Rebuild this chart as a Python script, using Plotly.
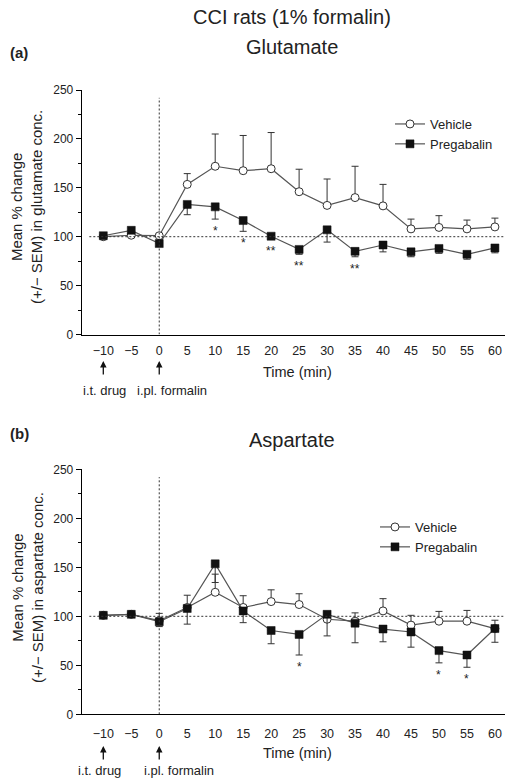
import plotly.graph_objects as go

# ---------------- data ----------------
time = [-10, -5, 0, 5, 10, 15, 20, 25, 30, 35, 40, 45, 50, 55, 60]
tick_text = ["\u221210", "\u22125", "0", "5", "10", "15", "20", "25", "30", "35", "40", "45", "50", "55", "60"]

# Panel (a) Glutamate
glu_vehicle = [100, 101.5, 101, 153.5, 172, 167.5, 169.5, 146, 132, 140, 131.5, 108, 109.5, 108, 110]
glu_vehicle_sem = [2, 2, 2, 11, 33, 36, 37, 23, 27, 32, 22, 10, 12, 9, 9]
glu_pregabalin = [101, 106.5, 93, 133, 130.5, 116.5, 100.5, 87, 107, 85, 91.5, 84.5, 88, 82, 88.5]
glu_pregabalin_sem = [2, 2, 3, 10.5, 12.5, 11, 3, 5, 12.5, 5.5, 7, 5, 5, 5, 5]
glu_sig_time = [10, 15, 20, 25, 35]
glu_sig_text = ["*", "*", "**", "**", "**"]

# Panel (b) Aspartate
asp_vehicle = [101, 102, 95.5, 109, 124.5, 109, 115, 112, 97, 95, 105.5, 91, 95, 95, 87.5]
asp_vehicle_sem = [1, 3, 7.5, 12.5, 18.5, 12, 12, 11, 2, 8.5, 12.5, 10, 10, 11, 8.5]
asp_pregabalin = [101, 102, 94.5, 108, 153.5, 105.5, 85.5, 81.5, 102, 93, 87, 84, 65, 60.5, 87.5]
asp_pregabalin_sem = [1, 3, 5, 16, 19, 12, 13.5, 21, 22, 20, 13, 15.5, 12.5, 12.5, 14]
asp_sig_time = [25, 50, 55]
asp_sig_text = ["*", "*", "*"]

# ---------------- layout helpers ----------------
W, H = 512, 784
FONT = "Liberation Sans, Arial, sans-serif"
TXT = "#222222"
LINE = "#555555"


def py(p):
    return 1 - p / H


def px(p):
    return p / W


XDOM = [px(81.7), px(505)]
XRANGE = [-13.86, 61.8]
DOM_A = [py(334.5), py(90)]
DOM_B = [py(714.3), py(469.3)]

fig = go.Figure()


def add_panel(xa, ya, veh, veh_sem, preg, preg_sem, legend):
    fig.add_trace(go.Scatter(
        x=time, y=veh, name="Vehicle", mode="lines+markers",
        xaxis=xa, yaxis=ya, legend=legend,
        line=dict(color=LINE, width=1.2),
        marker=dict(symbol="circle", size=8, color="white", line=dict(color="#333333", width=1)),
        error_y=dict(type="data", array=veh_sem, arrayminus=[0] * len(veh_sem), symmetric=False,
                     color="#333333", thickness=1, width=3.5),
    ))
    fig.add_trace(go.Scatter(
        x=time, y=preg, name="Pregabalin", mode="lines+markers",
        xaxis=xa, yaxis=ya, legend=legend,
        line=dict(color=LINE, width=1.2),
        marker=dict(symbol="square", size=8, color="#111111", line=dict(color="#111111", width=0.5)),
        error_y=dict(type="data", array=[0] * len(preg_sem), arrayminus=preg_sem, symmetric=False,
                     color="#333333", thickness=1, width=3.5),
    ))


add_panel("x", "y", glu_vehicle, glu_vehicle_sem, glu_pregabalin, glu_pregabalin_sem, "legend")
add_panel("x2", "y2", asp_vehicle, asp_vehicle_sem, asp_pregabalin, asp_pregabalin_sem, "legend2")

xaxis_common = dict(
    domain=XDOM, range=XRANGE, tickmode="array", tickvals=time, ticktext=tick_text,
    showline=True, linecolor="black", linewidth=1, ticks="", showgrid=False, zeroline=False,
    tickfont=dict(family=FONT, size=12.5, color=TXT), automargin=False,
)
yaxis_common = dict(
    range=[0, 250], tickmode="array", tickvals=[0, 50, 100, 150, 200, 250],
    showline=True, linecolor="black", linewidth=1, ticks="outside", ticklen=5, tickwidth=1,
    tickcolor="black", showgrid=False, zeroline=False,
    minor=dict(tickmode="array", tickvals=[25, 75, 125, 175, 225], ticks="outside", ticklen=3,
               tickcolor="black", tickwidth=1),
    tickfont=dict(family=FONT, size=12, color=TXT), automargin=False,
)

fig.update_layout(
    width=W, height=H, margin=dict(l=0, r=0, t=0, b=0),
    paper_bgcolor="white", plot_bgcolor="white",
    font=dict(family=FONT, color=TXT),
    xaxis=dict(xaxis_common, anchor="y", ticklabelstandoff=4),
    yaxis=dict(yaxis_common, domain=DOM_A, anchor="x"),
    xaxis2=dict(xaxis_common, anchor="y2", ticklabelstandoff=8),
    yaxis2=dict(yaxis_common, domain=DOM_B, anchor="x2"),
    legend=dict(x=px(390), y=py(109), xanchor="left", yanchor="top", bgcolor="rgba(0,0,0,0)",
                font=dict(family=FONT, size=13, color=TXT), itemwidth=30, tracegroupgap=0),
    legend2=dict(x=px(375), y=py(512), xanchor="left", yanchor="top", bgcolor="rgba(0,0,0,0)",
                 font=dict(family=FONT, size=13, color=TXT), itemwidth=30, tracegroupgap=0),
    showlegend=True,
)

# reference lines
for xr, yr in (("x", "y"), ("x2", "y2")):
    fig.add_shape(type="line", xref=xr, yref=yr, x0=0, x1=0, y0=0, y1=242,
                  line=dict(color="#333333", width=1, dash="2px,2px"))
    fig.add_shape(type="line", xref=xr, yref=yr, x0=-12.5, x1=XRANGE[1], y0=100, y1=100,
                  line=dict(color="#333333", width=1, dash="2px,2px"))


def note(x, y, text, size, xref="paper", yref="paper", xanchor="center", yanchor="middle", **kw):
    fig.add_annotation(x=x, y=y, xref=xref, yref=yref, text=text, showarrow=False,
                       xanchor=xanchor, yanchor=yanchor,
                       font=dict(family=FONT, size=size, color=TXT), **kw)


# significance stars
def add_stars(xr, yr, times, texts, preg, preg_sem):
    for t, s in zip(times, texts):
        i = time.index(t)
        note(t, preg[i] - preg_sem[i], s, 12, xref=xr, yref=yr, yanchor="top", yshift=-3)


add_stars("x", "y", glu_sig_time, glu_sig_text, glu_pregabalin, glu_pregabalin_sem)
add_stars("x2", "y2", asp_sig_time, asp_sig_text, asp_pregabalin, asp_pregabalin_sem)

# titles
note(px(292), py(17), "CCI rats (1% formalin)", 20)
note(px(292), py(47), "Glutamate", 20)
note(px(8), py(52), "<b>(a)</b>", 15, xanchor="left")
note(px(292), py(440), "Aspartate", 20)
note(px(8), py(433), "<b>(b)</b>", 15, xanchor="left")

# y-axis titles
note(px(27), py(207), "Mean % change<br>(+/\u2212 SEM) in glutamate conc.", 15, textangle=-90)
note(px(27), py(588), "Mean % change<br>(+/\u2212 SEM) in aspartate conc.", 15, textangle=-90)

# x-axis titles
note(px(297), py(372), "Time (min)", 14.5)
note(px(297), py(753), "Time (min)", 14.5)

# event arrows & labels
for xr, tip, lab_y, lab_x in (("x", 361, 390, (-9.7, 2.3)), ("x2", 746, 770, (-10.6, 3.5))):
    for t in (-10, 0):
        fig.add_annotation(x=t, y=py(tip), xref=xr, yref="paper", ax=0, ay=15, text="",
                           showarrow=True, arrowhead=2, arrowsize=1, arrowwidth=1.3, arrowcolor="#111111")
    note(lab_x[0], py(lab_y), "i.t. drug", 13, xref=xr)
    note(lab_x[1], py(lab_y), "i.pl. formalin", 13, xref=xr)

fig.write_html("out.html", config={"displayModeBar": False},
               post_script="document.body.style.margin='0';")
